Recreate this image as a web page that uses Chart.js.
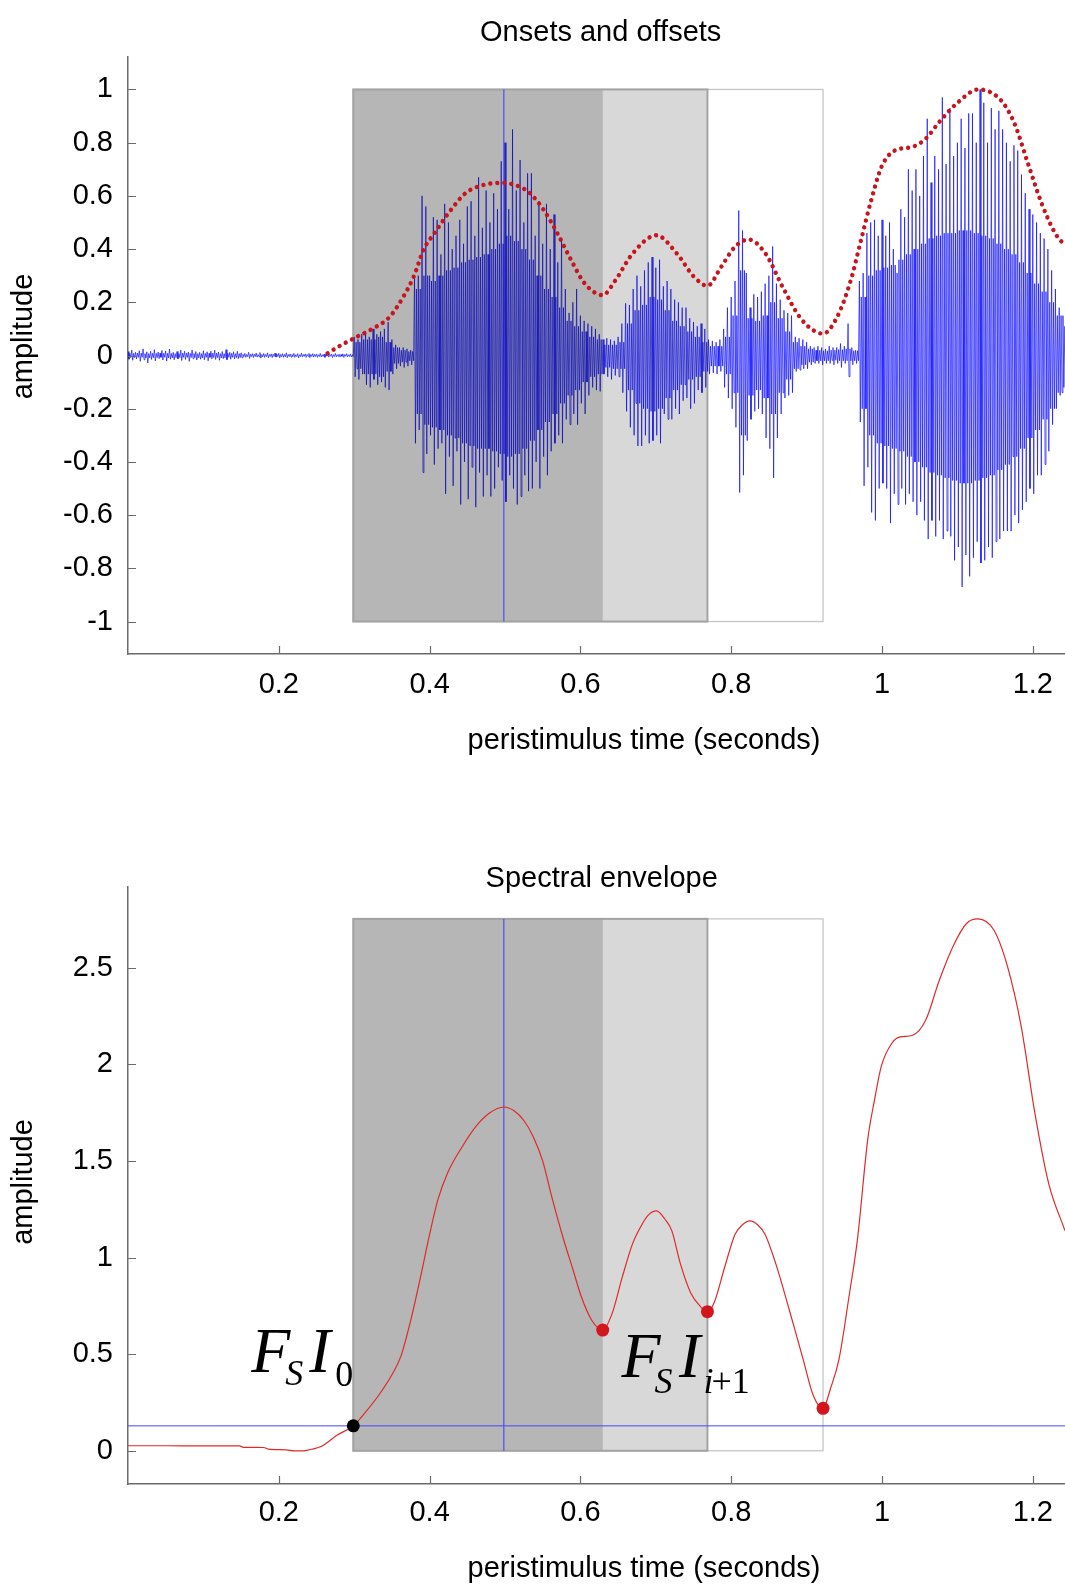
<!DOCTYPE html>
<html>
<head>
<meta charset="utf-8">
<title>Onsets and offsets / Spectral envelope</title>
<script src="https://cdn.jsdelivr.net/npm/chart.js@4.4.1/dist/chart.umd.min.js"></script>
<style>
  html, body { margin: 0; padding: 0; background: #ffffff; width: 1065px; height: 1584px; overflow: hidden; }
  canvas { position: absolute; left: 0; }
  #onsets { top: 0; }
  #envelope { top: 790px; }
</style>
</head>
<body>
<canvas id="onsets" width="1202" height="790"></canvas>
<canvas id="envelope" width="1202" height="830"></canvas>
<script>
// ---------------------------------------------------------------------------
// Data
// ---------------------------------------------------------------------------
const timeTicks = [0.2, 0.4, 0.6, 0.8, 1, 1.2];
const ampTicks = [-1, -0.8, -0.6, -0.4, -0.2, 0, 0.2, 0.4, 0.6, 0.8, 1];
const envTicks = [0, 0.5, 1, 1.5, 2, 2.5];

// speech waveform: positive and negative peak of each 5 ms frame, from 0 s
const frameStep = 0.005;
const waveHi = [
  0.015,0.020,0.012,0.018,0.025,0.014,0.016,0.022,0.013,0.019,
  0.017,0.024,0.012,0.015,0.020,0.016,0.013,0.021,0.015,0.012,
  0.018,0.014,0.016,0.020,0.013,0.015,0.022,0.012,0.014,0.016,
  0.010,0.008,0.012,0.007,0.009,0.011,0.008,0.010,0.006,0.009,
  0.008,0.007,0.010,0.006,0.008,0.007,0.009,0.006,0.008,0.007,
  0.006,0.008,0.005,0.007,0.006,0.008,0.005,0.006,0.007,0.006,
  0.07,0.06,0.08,0.09,0.07,0.10,0.08,0.09,0.10,0.125,
  0.06,0.04,0.03,0.03,0.025,0.02,0.30,0.30,0.60,0.56,
  0.30,0.52,0.51,0.38,0.57,0.50,0.40,0.45,0.51,0.42,
  0.56,0.58,0.45,0.67,0.48,0.62,0.50,0.61,0.55,0.73,
  0.80,0.55,0.85,0.62,
  0.735,0.50,0.685,0.685,0.45,0.58,0.42,0.57,0.40,0.53,
  0.35,0.44,0.25,0.16,0.20,0.25,0.15,0.13,0.12,0.11,
  0.10,0.08,0.06,0.065,0.06,0.055,0.07,0.12,0.196,0.19,
  0.25,0.30,0.26,0.32,0.35,0.37,0.33,0.36,0.26,0.28,
  0.25,0.21,0.20,0.18,0.18,0.14,0.126,0.11,
  0.12,0.10,0.06,0.055,0.05,0.06,0.10,0.18,0.22,0.28,
  0.545,0.47,0.31,0.18,0.23,0.22,0.24,0.27,0.30,0.41,
  0.27,0.21,0.17,0.16,0.15,0.07,0.065,0.06,0.05,0.035,
  0.03,0.035,0.03,0.025,0.035,0.03,0.03,0.045,0.035,0.12,
  0.03,0.02,0.28,0.31,0.46,0.50,0.51,0.45,
  0.51,0.45,0.50,0.40,0.31,0.55,0.52,0.70,0.62,0.70,
  0.60,0.75,0.89,0.65,0.75,0.70,0.97,0.72,0.93,0.75,
  0.80,0.89,0.78,0.91,0.91,0.80,1.00,0.95,0.80,0.93,
  0.85,0.92,0.85,0.80,0.73,0.79,0.77,0.68,0.61,0.55,
  0.53,0.50,0.46,0.44,0.40,0.32,0.25,0.18,0.15,0.12
];
const waveLo = [
  -0.014,-0.018,-0.013,-0.022,-0.016,-0.028,-0.015,-0.020,-0.012,-0.017,
  -0.021,-0.014,-0.016,-0.013,-0.019,-0.015,-0.022,-0.012,-0.017,-0.014,
  -0.016,-0.020,-0.013,-0.015,-0.018,-0.012,-0.016,-0.014,-0.013,-0.012,
  -0.009,-0.007,-0.011,-0.008,-0.006,-0.010,-0.007,-0.009,-0.008,-0.006,
  -0.009,-0.007,-0.008,-0.006,-0.007,-0.009,-0.006,-0.007,-0.008,-0.006,
  -0.007,-0.005,-0.007,-0.006,-0.008,-0.005,-0.006,-0.007,-0.005,-0.006,
  -0.08,-0.09,-0.07,-0.11,-0.12,-0.09,-0.11,-0.10,-0.12,-0.13,
  -0.07,-0.05,-0.04,-0.045,-0.04,-0.035,-0.33,-0.28,-0.44,-0.37,
  -0.30,-0.41,-0.35,-0.33,-0.52,-0.38,-0.49,-0.36,-0.56,-0.40,
  -0.54,-0.42,-0.57,-0.44,-0.53,-0.45,-0.53,-0.50,-0.42,-0.47,
  -0.55,-0.45,-0.50,-0.56,
  -0.53,-0.45,-0.51,-0.50,-0.40,-0.50,-0.38,-0.45,-0.36,-0.33,
  -0.30,-0.33,-0.24,-0.26,-0.22,-0.26,-0.18,-0.22,-0.15,-0.12,
  -0.13,-0.135,-0.07,-0.08,-0.09,-0.075,-0.08,-0.14,-0.21,-0.27,
  -0.30,-0.34,-0.34,-0.30,-0.33,-0.32,-0.30,-0.33,-0.22,-0.24,
  -0.24,-0.20,-0.22,-0.17,-0.16,-0.20,-0.18,-0.13,
  -0.14,-0.12,-0.07,-0.065,-0.07,-0.06,-0.12,-0.16,-0.20,-0.27,
  -0.515,-0.45,-0.32,-0.24,-0.21,-0.20,-0.22,-0.31,-0.35,-0.46,
  -0.31,-0.22,-0.16,-0.15,-0.14,-0.06,-0.055,-0.05,-0.05,-0.035,
  -0.03,-0.03,-0.035,-0.03,-0.03,-0.035,-0.03,-0.045,-0.03,-0.08,
  -0.035,-0.03,-0.25,-0.49,-0.42,-0.59,-0.62,-0.50,
  -0.48,-0.50,-0.63,-0.52,-0.56,-0.50,-0.56,-0.52,-0.55,-0.60,
  -0.55,-0.62,-0.69,-0.62,-0.68,-0.62,-0.69,-0.66,-0.68,-0.77,
  -0.72,-0.87,-0.75,-0.83,-0.76,-0.70,-0.78,-0.77,-0.72,-0.76,
  -0.70,-0.69,-0.66,-0.66,-0.66,-0.60,-0.63,-0.58,-0.55,-0.50,
  -0.52,-0.45,-0.45,-0.41,-0.36,-0.26,-0.20,-0.15,-0.12,-0.10
];
// dense inner band of the waveform, one value per 10 ms from 0 s
const coreStep = 0.01;
const waveCoreHi = [
  0.008,0.009,0.007,0.008,0.009,0.008,0.007,0.009,0.008,0.007,
  0.008,0.009,0.007,0.008,0.007,0.004,0.005,0.004,0.004,0.005,
  0.004,0.004,0.003,0.004,0.004,0.003,0.004,0.003,0.004,0.003,
  0.05,0.06,0.06,0.07,0.05,0.03,0.02,0.015,0.25,0.30,
  0.28,0.30,0.32,0.33,0.35,0.36,0.37,0.38,0.40,0.42,
  0.45,0.43,0.40,0.36,0.30,0.25,0.22,0.18,0.13,0.11,
  0.09,0.07,0.06,0.04,0.04,0.05,0.12,0.17,0.19,0.22,
  0.21,0.17,0.13,0.11,0.09,0.07,0.05,0.035,0.035,0.07,
  0.15,0.32,0.14,0.13,0.15,0.20,0.14,0.09,0.05,0.035,
  0.025,0.02,0.018,0.02,0.022,0.025,0.018,0.22,0.30,0.32,
  0.33,0.34,0.36,0.38,0.40,0.42,0.44,0.45,0.46,0.46,
  0.47,0.47,0.46,0.45,0.44,0.42,0.40,0.38,0.35,0.31,
  0.27,0.24,0.20,0.15,0.11
];
const waveCoreLo = [
  -0.008,-0.007,-0.009,-0.008,-0.007,-0.009,-0.008,-0.007,-0.008,-0.009,
  -0.007,-0.008,-0.009,-0.007,-0.008,-0.004,-0.004,-0.005,-0.004,-0.004,
  -0.005,-0.004,-0.004,-0.003,-0.004,-0.004,-0.003,-0.004,-0.003,-0.004,
  -0.05,-0.07,-0.07,-0.08,-0.06,-0.03,-0.025,-0.02,-0.22,-0.26,
  -0.27,-0.28,-0.30,-0.31,-0.33,-0.34,-0.35,-0.35,-0.36,-0.37,
  -0.38,-0.37,-0.35,-0.32,-0.28,-0.25,-0.22,-0.18,-0.15,-0.13,
  -0.10,-0.08,-0.07,-0.045,-0.05,-0.05,-0.13,-0.18,-0.20,-0.21,
  -0.20,-0.16,-0.13,-0.11,-0.09,-0.08,-0.06,-0.04,-0.04,-0.07,
  -0.14,-0.30,-0.15,-0.13,-0.16,-0.22,-0.14,-0.09,-0.05,-0.035,
  -0.025,-0.02,-0.02,-0.018,-0.02,-0.02,-0.02,-0.20,-0.30,-0.33,
  -0.34,-0.35,-0.36,-0.38,-0.40,-0.42,-0.44,-0.45,-0.46,-0.47,
  -0.48,-0.48,-0.47,-0.46,-0.45,-0.43,-0.41,-0.38,-0.35,-0.31,
  -0.28,-0.24,-0.20,-0.14,-0.10
];

// normalised amplitude envelope (dotted curve over the waveform)
const onsetEnvTime = [0.2647,0.2827,0.3033,0.324,0.347,0.365,0.3787,0.3924,0.406,0.4245,
  0.4472,0.470,0.4973,0.5247,0.5335,0.5516,0.5697,0.5878,0.6059,0.6296,0.6465,0.6692,
  0.7008,0.728,0.7506,0.7685,0.7867,0.8048,0.823,0.8455,0.8681,0.8907,0.9088,0.9218,
  0.9405,0.9586,0.9721,0.9857,0.9993,1.0173,1.040,1.058,1.076,1.099,1.128,1.1575,
  1.1757,1.1937,1.2118,1.230,1.2426];
const onsetEnvValue = [0.008,0.039,0.070,0.100,0.145,0.220,0.295,0.400,0.458,0.533,
  0.609,0.640,0.649,0.627,0.609,0.546,0.458,0.358,0.270,0.227,0.283,0.383,
  0.452,0.383,0.296,0.262,0.333,0.408,0.436,0.383,0.258,0.145,0.095,0.082,
  0.145,0.283,0.433,0.584,0.709,0.771,0.784,0.815,0.878,0.947,1.000,0.960,
  0.872,0.721,0.571,0.458,0.414];

// spectral envelope
const envTime = [0.000,0.050,0.100,0.148,0.153,0.180,0.186,0.210,0.220,0.232,
  0.246,0.256,0.264,0.277,0.2988,0.315,0.333,0.351,0.362,0.374,0.388,0.400,0.411,
  0.424,0.443,0.461,0.479,0.4985,0.512,0.525,0.537,0.550,0.563,0.578,0.590,0.601,
  0.615,0.6296,0.642,0.6556,0.669,0.680,0.690,0.701,0.712,0.7212,0.7325,0.746,
  0.7596,0.7685,0.7777,0.7913,0.805,0.815,0.825,0.835,0.845,0.859,0.877,0.8953,
  0.909,0.9218,0.9315,0.943,0.9563,0.9676,0.981,0.990,0.999,1.013,1.024,1.040,
  1.058,1.076,1.094,1.112,1.127,1.1485,1.1666,1.1847,1.2028,1.221,1.2426];
const envValue = [0.026,0.026,0.025,0.025,0.018,0.017,0.009,0.005,0.000,0.000,
  0.010,0.022,0.042,0.080,0.129,0.20,0.29,0.40,0.49,0.66,0.90,1.12,1.30,
  1.44,1.573,1.677,1.747,1.78,1.76,1.71,1.63,1.50,1.30,1.09,0.94,0.80,
  0.676,0.625,0.71,0.90,1.07,1.16,1.22,1.242,1.20,1.14,0.97,0.82,
  0.745,0.72,0.77,0.95,1.12,1.17,1.19,1.17,1.12,0.97,0.73,0.475,
  0.285,0.22,0.32,0.475,0.80,1.10,1.61,1.815,1.99,2.11,2.143,2.15,
  2.23,2.436,2.61,2.73,2.754,2.695,2.505,2.195,1.747,1.385,1.14];

// detected events
const threshold = 0.129;
const onsetTime = 0.2988;
const offsetTimes = [0.6296, 0.7685, 0.9218];
const offsetValues = [0.625, 0.72, 0.22];
const peakTime = 0.4985;

// ---------------------------------------------------------------------------
// Drawing helpers
// ---------------------------------------------------------------------------
const SANS = '"Liberation Sans", Arial, Helvetica, sans-serif';
const SERIF = '"Liberation Serif", "Times New Roman", serif';
const AXIS_GREY = '#6b6b6b';
const X_MAX = 1.3687;
const envMax = Math.max(...envValue);
const windowBounds = [onsetTime, ...offsetTimes];

function pairs(ts, vs) { return ts.map((t, i) => ({ x: t, y: vs[i] })); }

// each 5 ms frame is traced as: frame peak, frame trough, then the inner band
function waveformPoints() {
  const pts = [];
  const q = frameStep / 4;
  for (let k = 0; k < waveHi.length; k++) {
    const t = k * frameStep;
    const c = Math.min(Math.floor(t / coreStep + 1e-9), waveCoreHi.length - 1);
    pts.push({ x: t, y: waveHi[k] });
    pts.push({ x: t + q, y: waveLo[k] });
    pts.push({ x: t + 2 * q, y: waveCoreHi[c] });
    pts.push({ x: t + 3 * q, y: waveCoreLo[c] });
  }
  return pts;
}

function timeAxis(tickPad, titlePadBottom) {
  return {
    type: 'linear', position: 'bottom', min: 0, max: X_MAX,
    afterBuildTicks: s => { s.ticks = timeTicks.map(v => ({ value: v })); },
    afterFit: s => { s.height = 136; },
    grid: { display: false, drawTicks: false },
    border: { display: true, color: AXIS_GREY, width: 1.5 },
    ticks: { padding: tickPad, color: '#000', autoSkip: false, maxRotation: 0,
             font: { family: SANS, size: 29 }, callback: v => String(v) },
    title: { display: true, text: 'peristimulus time (seconds)', color: '#000',
             font: { family: SANS, size: 29 }, padding: { top: 0, bottom: titlePadBottom } }
  };
}

function valueAxis(min, max, tickValues) {
  return {
    type: 'linear', position: 'left', min: min, max: max,
    afterBuildTicks: s => { s.ticks = tickValues.map(v => ({ value: v })); },
    afterFit: s => { s.width = 128; },
    grid: { display: false, drawTicks: false },
    border: { display: true, color: AXIS_GREY, width: 1.5 },
    ticks: { padding: 15, color: '#000', autoSkip: false,
             font: { family: SANS, size: 29 }, callback: v => String(v) }
  };
}

// shaded analysis windows, inward tick marks, titles and annotations
function makeDecor(cfg) {
  return {
    id: 'decor',
    beforeDatasetsDraw(chart) {
      const { ctx, scales: { x, y } } = chart;
      const px = v => x.getPixelForValue(v);
      const top = y.getPixelForValue(cfg.windowTop);
      const bot = y.getPixelForValue(cfg.windowBottom);
      const [b0, b1, b2, b3] = windowBounds.map(px);
      ctx.save();
      ctx.fillStyle = '#ffffff';
      ctx.fillRect(b0, top, b3 - b0, bot - top);
      ctx.strokeStyle = '#c6c6c6';
      ctx.lineWidth = 1.3;
      ctx.strokeRect(b0, top, b3 - b0, bot - top);
      ctx.fillStyle = '#d8d8d8';
      ctx.fillRect(b0, top, b2 - b0, bot - top);
      ctx.fillStyle = '#b6b6b6';
      ctx.fillRect(b0, top, b1 - b0, bot - top);
      ctx.strokeStyle = '#a3a3a3';
      ctx.lineWidth = 2;
      ctx.strokeRect(b0, top, b2 - b0, bot - top);
      ctx.restore();
    },
    // the waveform trace darkens whatever it is drawn over
    beforeDatasetDraw(chart, args) {
      if (args.meta.label === 'waveform') chart.ctx.globalCompositeOperation = 'multiply';
    },
    afterDatasetDraw(chart, args) {
      if (args.meta.label === 'waveform') chart.ctx.globalCompositeOperation = 'source-over';
    },
    afterDatasetsDraw(chart) {
      const { ctx, chartArea: a, scales: { x, y } } = chart;
      ctx.save();
      ctx.strokeStyle = AXIS_GREY;
      ctx.lineWidth = 1.2;
      ctx.beginPath();
      x.ticks.forEach(t => {
        const p = Math.round(x.getPixelForValue(t.value)) + 0.5;
        ctx.moveTo(p, a.bottom); ctx.lineTo(p, a.bottom - 8);
      });
      y.ticks.forEach(t => {
        const p = Math.round(y.getPixelForValue(t.value)) + 0.5;
        ctx.moveTo(a.left, p); ctx.lineTo(a.left + 8, p);
      });
      ctx.stroke();
      ctx.restore();
    },
    afterDraw(chart) {
      const { ctx, scales: { x, y } } = chart;
      ctx.save();
      ctx.fillStyle = '#000';
      ctx.textBaseline = 'alphabetic';
      ctx.font = '29px ' + SANS;
      ctx.textAlign = 'center';
      ctx.fillText(cfg.title, cfg.titleX, cfg.titleBaseline);
      ctx.save();
      ctx.translate(cfg.yLabelBaseline, cfg.yLabelCenter);
      ctx.rotate(-Math.PI / 2);
      ctx.fillText('amplitude', 0, 0);
      ctx.restore();
      ctx.textAlign = 'left';
      (cfg.marks || []).forEach(m => {
        const ax = x.getPixelForValue(m.t), ay = y.getPixelForValue(m.v);
        m.parts.forEach(p => {
          ctx.font = p.style + ' ' + p.size + 'px ' + SERIF;
          ctx.fillText(p.text, ax + p.dx, ay + p.dy);
        });
      });
      ctx.restore();
    }
  };
}

const common = {
  responsive: false, animation: false, devicePixelRatio: 1, events: [],
  plugins: { legend: { display: false }, tooltip: { enabled: false }, title: { display: false } }
};

// ---------------------------------------------------------------------------
// Onsets and offsets
// ---------------------------------------------------------------------------
new Chart(document.getElementById('onsets'), {
  type: 'line',
  data: {
    datasets: [
      { label: 'envelope', data: pairs(onsetEnvTime, onsetEnvValue), order: 0,
        borderColor: '#c8141c', borderWidth: 4.4, borderDash: [0.01, 7], borderCapStyle: 'round',
        pointRadius: 0, cubicInterpolationMode: 'monotone' },
      { label: 'waveform', data: waveformPoints(), order: 1,
        borderColor: '#5c5cff', borderWidth: 1, pointRadius: 0, tension: 0 },
      { label: 'peak', data: [{ x: peakTime, y: -1 }, { x: peakTime, y: 1 }], order: 2,
        borderColor: '#3a3aff', borderWidth: 1, pointRadius: 0 }
    ]
  },
  options: Object.assign({}, common, {
    parsing: false,
    layout: { padding: { top: 57, right: 42, bottom: 0, left: 0 } },
    scales: { x: timeAxis(13.5, 31.5), y: valueAxis(-1.122, 1.122, ampTicks) }
  }),
  plugins: [makeDecor({
    windowTop: 1, windowBottom: -1,
    title: 'Onsets and offsets', titleX: 600.7, titleBaseline: 41.3,
    yLabelBaseline: 31.7, yLabelCenter: 336.5
  })]
});

// ---------------------------------------------------------------------------
// Spectral envelope
// ---------------------------------------------------------------------------
new Chart(document.getElementById('envelope'), {
  type: 'line',
  data: {
    datasets: [
      { label: 'onset', data: [{ x: onsetTime, y: threshold }], order: 0, showLine: false,
        pointRadius: 6.5, pointBackgroundColor: '#000', pointBorderColor: '#000', pointBorderWidth: 0 },
      { label: 'offsets', data: pairs(offsetTimes, offsetValues), order: 1, showLine: false,
        pointRadius: 6.5, pointBackgroundColor: '#d3151c', pointBorderColor: '#d3151c', pointBorderWidth: 0 },
      { label: 'spectral envelope', data: pairs(envTime, envValue), order: 2,
        borderColor: '#de2a2a', borderWidth: 1.2, pointRadius: 0, cubicInterpolationMode: 'monotone' },
      { label: 'threshold', data: [{ x: 0, y: threshold }, { x: X_MAX, y: threshold }], order: 3,
        borderColor: '#4646ff', borderWidth: 1, pointRadius: 0 },
      { label: 'peak', data: [{ x: peakTime, y: 0 }, { x: peakTime, y: envMax }], order: 3,
        borderColor: '#3a3aff', borderWidth: 1, pointRadius: 0 }
    ]
  },
  options: Object.assign({}, common, {
    parsing: false,
    layout: { padding: { top: 97, right: 42, bottom: 0, left: 0 } },
    scales: { x: timeAxis(11.9, 33.5), y: valueAxis(-0.172, 2.919, envTicks) }
  }),
  plugins: [makeDecor({
    windowTop: envMax, windowBottom: 0,
    title: 'Spectral envelope', titleX: 601.7, titleBaseline: 96.7,
    yLabelBaseline: 31.7, yLabelCenter: 392,
    marks: [
      { t: 0.1634, v: 0.409, parts: [
        { text: 'F', style: 'italic', size: 64, dx: 0, dy: 0 },
        { text: 'S', style: 'italic', size: 36, dx: 34, dy: 13 },
        { text: 'I', style: 'italic', size: 64, dx: 58, dy: 0 },
        { text: '0', style: 'normal', size: 36, dx: 84, dy: 14 } ] },
      { t: 0.6546, v: 0.383, parts: [
        { text: 'F', style: 'italic', size: 64, dx: 0, dy: 0 },
        { text: 'S', style: 'italic', size: 36, dx: 33, dy: 16 },
        { text: 'I', style: 'italic', size: 64, dx: 57.5, dy: 0 },
        { text: 'i', style: 'italic', size: 36, dx: 82, dy: 16 },
        { text: '+1', style: 'normal', size: 36, dx: 90, dy: 16 } ] }
    ]
  })]
});
</script>
</body>
</html>
